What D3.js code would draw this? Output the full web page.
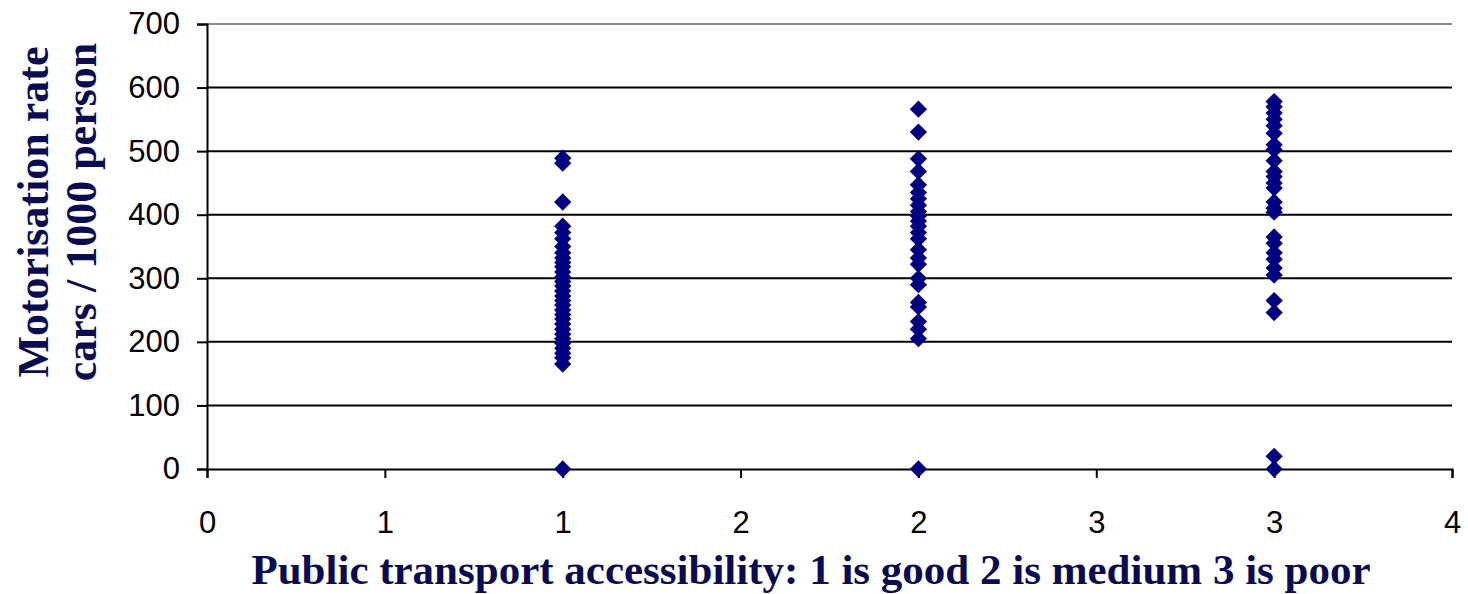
<!DOCTYPE html>
<html>
<head>
<meta charset="utf-8">
<script src="https://cdn.jsdelivr.net/npm/d3@7"></script>
<style>
  html, body { margin: 0; padding: 0; background: #fff; }
  svg { display: block; }
</style>
</head>
<body>
<svg id="chart" width="1468" height="594"></svg>
<script>
// Accessibility classes (1 good, 2 medium, 3 poor) and motorisation rates per class
const goodAccess = [489, 481, 420, 382, 372, 362, 350, 340, 332, 325, 318, 310, 302, 295, 288, 280, 272, 265, 258, 250, 243, 236, 228, 220, 212, 205, 198, 190, 182, 175, 165, 0];
const mediumAccess = [566, 530, 488, 468, 447, 435, 425, 415, 405, 398, 390, 382, 372, 362, 345, 332, 322, 300, 290, 262, 255, 232, 220, 205, 0];
const poorAccess = [578, 570, 560, 550, 540, 528, 510, 502, 485, 468, 460, 450, 442, 420, 410, 404, 365, 355, 340, 330, 316, 305, 265, 246, 20, 0];
const classes = [1, 2, 3];
const seriesValues = [goodAccess, mediumAccess, poorAccess];

const xTicks = [0, 0.5, 1, 1.5, 2, 2.5, 3, 3.5];
const yTicks = [0, 100, 200, 300, 400, 500, 600, 700];

const points = classes.flatMap((c, i) => seriesValues[i].map(v => ({ x: c, y: v })));

const svg = d3.select("#chart");
const plotLeft = 207, plotRight = 1452, plotTop = 24, plotBottom = 469;

const x = d3.scaleLinear().domain([0, 3.5]).range([plotLeft, plotRight]);
const y = d3.scaleLinear().domain([0, 700]).range([plotBottom, plotTop]);

// Horizontal gridlines
svg.append("g")
  .selectAll("line")
  .data(yTicks.filter(t => t > 0))
  .join("line")
  .attr("x1", plotLeft).attr("x2", plotRight)
  .attr("y1", d => y(d)).attr("y2", d => y(d))
  .attr("stroke", d => d === 700 ? "#8a8a8a" : "#000")
  .attr("stroke-width", 2);

const tickFont = "Liberation Sans, Arial, sans-serif";

// Y axis
const yAxis = svg.append("g")
  .attr("transform", `translate(${plotLeft},0)`)
  .call(d3.axisLeft(y).tickValues(yTicks).tickSize(10).tickPadding(17).tickFormat(d3.format("d")));
yAxis.select(".domain").attr("stroke", "#000").attr("stroke-width", 2);
yAxis.selectAll(".tick line").attr("stroke", "#000").attr("stroke-width", 2);
yAxis.selectAll(".tick text")
  .attr("font-family", tickFont)
  .attr("font-size", 31).attr("fill", "#000");

// X axis (labels rounded to whole numbers)
const xAxis = svg.append("g")
  .attr("transform", `translate(0,${plotBottom})`)
  .call(d3.axisBottom(x).tickValues(xTicks).tickSize(9).tickPadding(55)
    .tickFormat(d => String(Math.round(d))));
xAxis.select(".domain").attr("stroke", "#000").attr("stroke-width", 2);
xAxis.selectAll(".tick line").attr("stroke", "#000").attr("stroke-width", 2);
xAxis.selectAll(".tick text")
  .attr("font-family", tickFont)
  .attr("font-size", 31).attr("fill", "#000").attr("dy", 0);

// Diamond markers
const diamond = d3.symbol().type(d3.symbolDiamond2).size(190);
svg.append("g")
  .selectAll("path")
  .data(points)
  .join("path")
  .attr("d", diamond)
  .attr("transform", d => `translate(${x(d.x)},${y(d.y)})`)
  .attr("fill", "#000080");

// Axis titles
const titleFont = "Liberation Serif, 'Times New Roman', serif";
const yTitle = svg.append("text")
  .attr("transform", `translate(0,212) rotate(-90)`)
  .attr("text-anchor", "middle")
  .attr("font-family", titleFont)
  .attr("font-weight", "bold")
  .attr("font-size", 44)
  .attr("fill", "#0b0b4f");
yTitle.append("tspan").attr("x", 0).attr("y", 48).text("Motorisation rate");
yTitle.append("tspan").attr("x", 0).attr("y", 96).text("cars / 1000 person");

svg.append("text")
  .attr("x", 811)
  .attr("y", 584)
  .attr("text-anchor", "middle")
  .attr("font-family", titleFont)
  .attr("font-weight", "bold")
  .attr("font-size", 43)
  .attr("fill", "#0b0b4f")
  .text("Public transport accessibility: 1 is good 2 is medium 3 is poor");
</script>
</body>
</html>
